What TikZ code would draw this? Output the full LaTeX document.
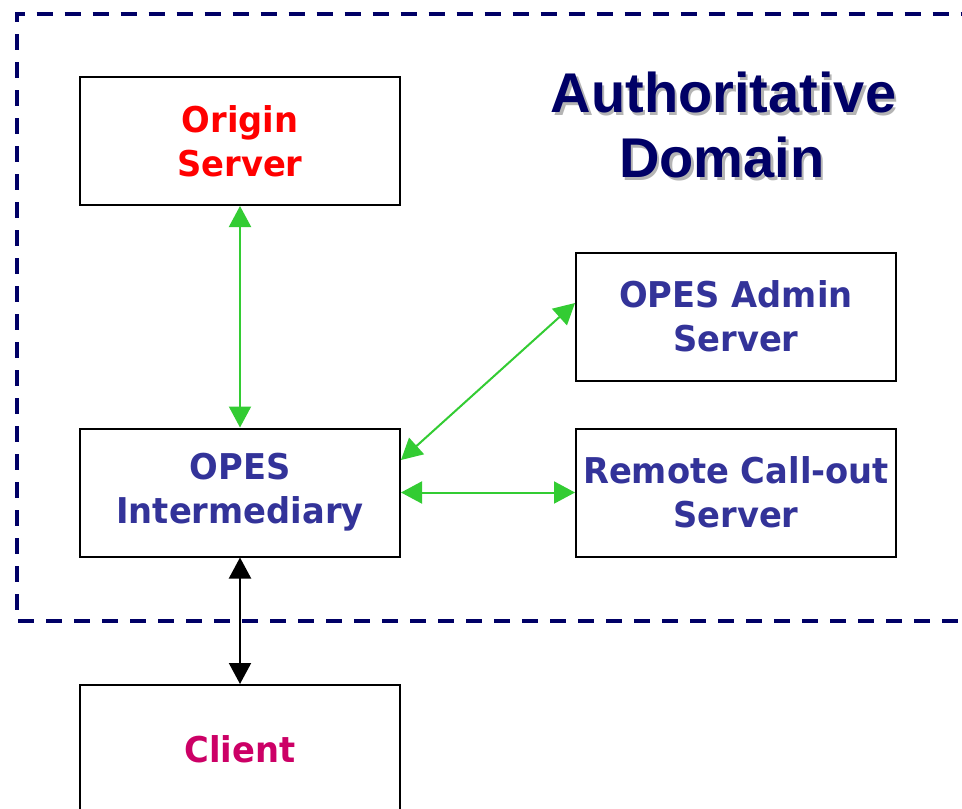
\documentclass[tikz,border=0pt]{standalone}
\usepackage{fontspec}
\usetikzlibrary{arrows.meta}
\newfontfamily\boxfont[FakeStretch=0.95]{DejaVu Sans}
\newfontfamily\titlefont{Liberation Sans}
\definecolor{navy}{HTML}{000066}
\definecolor{opesblue}{HTML}{333399}
\definecolor{origred}{HTML}{FF0000}
\definecolor{clientred}{HTML}{CC0066}
\definecolor{arrgreen}{HTML}{33CC33}
\definecolor{shadowgray}{HTML}{B4B4B4}
\tikzset{
  box/.style={draw=black, line width=2pt, fill=white, minimum width=320pt, minimum height=128pt,
    inner sep=0pt, align=center, font=\boxfont\bfseries\fontsize{35.5}{44}\selectfont},
  garrow/.style={draw=arrgreen, line width=2pt, {Triangle[length=21pt,width=22pt]}-{Triangle[length=21pt,width=22pt]}},
  karrow/.style={draw=black, line width=2pt, {Triangle[length=21pt,width=22pt]}-{Triangle[length=21pt,width=22pt]}},
  titletext/.style={anchor=base, inner sep=0pt, font=\titlefont\bfseries\fontsize{56}{58}\selectfont},
  domainline/.style={draw=navy, line width=4pt, dash pattern=on 16pt off 12pt, dash phase=13.5pt, line join=miter}
}
\begin{document}
\begin{tikzpicture}[x=1pt,y=-1pt]
\useasboundingbox (0,0) rectangle (962,809);
\clip (0,0) rectangle (962,809);
\fill[white] (0,0) rectangle (962,809);
% authoritative domain boundary
\draw[domainline] (1000,620.5) -- (16.5,620.5) -- (16.5,13.5) -- (1000,13.5);
% title with shadow
\node[titletext, text=shadowgray] (t1s) at (726,115) {Authoritative};
\node[titletext, text=shadowgray] (t2s) at (724.5,180) {Domain};
\node[titletext, text=navy] (t1) at (723.5,112) {Authoritative};
\node[titletext, text=navy] (t2) at (722,177) {Domain};
% boxes
\node[box, text=origred] (origin) at (240,141) {Origin\\Server};
\node[box, text=opesblue] (inter) at (240,492.5) {OPES\\Intermediary};
\node[box, text=opesblue] (admin) at (736,316.5) {OPES Admin\\Server};
\node[box, text=opesblue] (remote) at (736,492.5) {Remote Call-out\\Server};
\node[box, text=clientred] (client) at (240,749) {Client};
% connectors
\draw[garrow] (origin.south) -- (inter.north);
\draw[garrow] ([yshift=32.5pt]inter.east) -- ([yshift=13.5pt]admin.west);
\draw[garrow] (inter.east) -- (remote.west);
\draw[karrow] (inter.south) -- (client.north);
\end{tikzpicture}
\end{document}
